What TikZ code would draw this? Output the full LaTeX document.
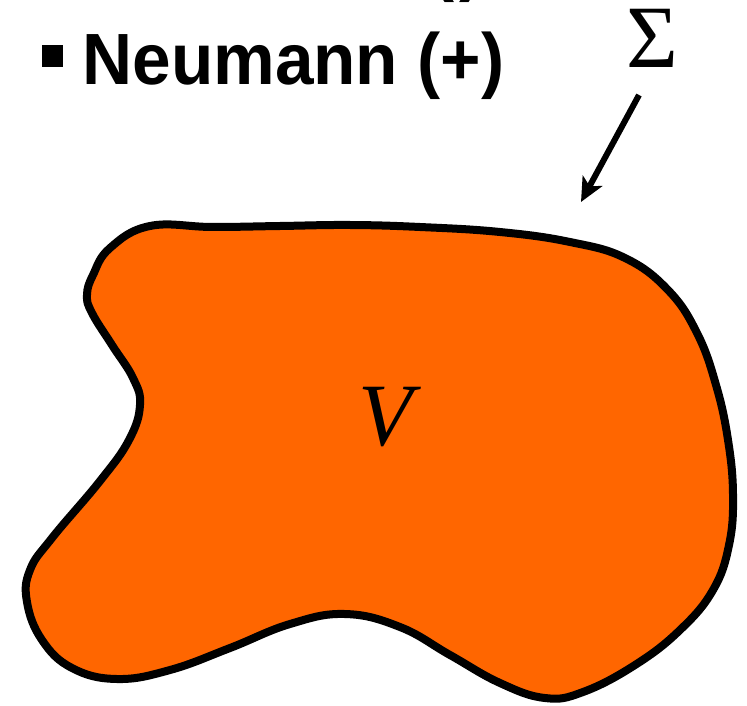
\documentclass[tikz,border=0pt]{standalone}
\usepackage{fontspec}
\setmainfont{Liberation Serif}
\newfontfamily\itemsans{Liberation Sans}[FakeStretch=0.955]
\usetikzlibrary{arrows.meta}
\definecolor{regionfill}{HTML}{FF6600}

\begin{document}
\begin{tikzpicture}[x=0.5pt, y=-0.5pt,
  item/.style={font=\itemsans\bfseries\fontsize{36.3}{40}\selectfont, inner sep=0pt, anchor=base west},
  bulletbox/.style={fill=black, minimum width=10.5pt, minimum height=11pt, inner sep=0pt},
  bigsym/.style={font=\fontsize{44.5}{50}\selectfont, inner sep=0pt, anchor=base},
  pointer/.style={-{Stealth[length=12pt, width=11pt, inset=3pt]}, line width=3pt}]
  \useasboundingbox (0,0) rectangle (747,705);

  % list line cut off at the top
  \begin{scope}
    \clip (0,0) rectangle (747,705);
    \node[item] (prevline) at (431,-12) {(\kern2.5pt)};
  \end{scope}

  % bullet item
  \node[bulletbox] (bul) at (52.5,56) {};
  \node[item] (neumann) at (82,85) {Neumann (+)};

  % region V with boundary
  \draw[line width=4pt, line join=round, fill=regionfill]
    plot[smooth cycle, tension=0.7] coordinates {
      (150,226) (213,227) (280,226) (350,225) (420,227) (500,232) (570,242)
      (625,258) (668,290) (697,333) (716,385) (728,440) (733,495) (729,545)
      (713,590) (680,630) (635,665) (583,692) (545,698) (500,683) (450,655)
      (400,627) (345,614) (290,624) (230,648) (170,670) (117,679) (72,668)
      (42,640) (27,602) (30,570) (52,538) (100,481) (129,440) (140,405)
      (133,378) (112,345) (92,313) (87,295) (93,275) (110,248)};
  \node[bigsym] (vol) at (390,445) {\textit{V}};

  % surface label
  \node[bigsym] (sigma) at (652,68) {Σ};
  \coordinate (sigtail) at (639,95);
  \coordinate (sigtip) at (581,202);
  \draw[pointer] (sigtail) -- (sigtip);
\end{tikzpicture}
\end{document}
